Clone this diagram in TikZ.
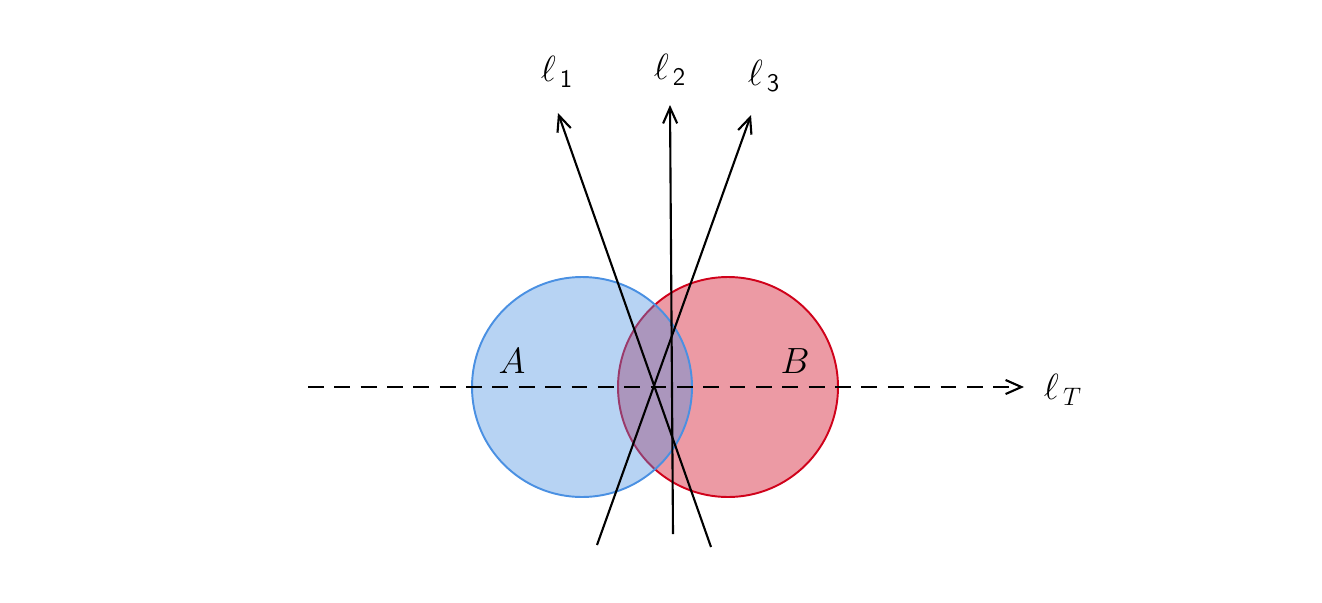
\documentclass[tikz,border=0pt]{standalone}
\usetikzlibrary{arrows.meta}
\definecolor{cblue}{RGB}{74,144,226}
\definecolor{cred}{RGB}{208,2,27}
\begin{document}
\begin{tikzpicture}[x=0.02cm,y=-0.02cm,
  lbl/.style={font=\fontsize{20}{24}\selectfont, inner sep=0pt},
  tip/.style={-{Straight Barb[length=9pt,width=8pt]}},
  ray/.style={line width=1.2pt, tip},
  tline/.style={line width=1.2pt, dash pattern=on 9pt off 6pt, tip}]
\useasboundingbox (0,0) rectangle (1322,602);
% circles
\fill[cred, fill opacity=0.4] (728,387) circle (110);
\draw[cred, line width=1.1pt] (728,387) circle (110);
\fill[cblue, fill opacity=0.4] (582,387) circle (110);
\draw[cblue, line width=1.1pt] (582,387) circle (110);
\node[lbl] (A) at (512,361) {$A$};
\node[lbl] (B) at (795,361) {$B$};
% coordinates
\coordinate (t0) at (308,387);
\coordinate (t1) at (1024,387);
\coordinate (a0) at (711,547);
\coordinate (a1) at (558,113);
\coordinate (b0) at (673,534);
\coordinate (b1) at (670,105);
\coordinate (c0) at (597,545);
\coordinate (c1) at (751,115);
\draw[tline] (t0) -- (t1);
\draw[ray] (a0) -- (a1);
\draw[ray] (b0) -- (b1);
\draw[ray] (c0) -- (c1);
\node[lbl] (l1) at (557,72) {$\ell_{\,\mathsf{1}}$};
\node[lbl] (l2) at (670,70) {$\ell_{\,\mathsf{2}}$};
\node[lbl] (l3) at (764,76) {$\ell_{\,\mathsf{3}}$};
\node[lbl] (lT) at (1063,390) {$\ell_{\,T}$};
\end{tikzpicture}
\end{document}
